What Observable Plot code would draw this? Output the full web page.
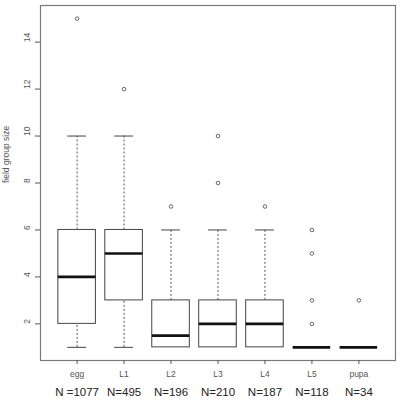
<!DOCTYPE html>
<html>
<head>
<meta charset="utf-8">
<script src="https://cdn.jsdelivr.net/npm/d3@7"></script>
<script src="https://cdn.jsdelivr.net/npm/@observablehq/plot@0.6"></script>
<style>
  body { margin: 0; background: #fff; }
  #chart { width: 400px; height: 400px; }
</style>
</head>
<body>
<div id="chart"></div>
<script>
// values
const stages = ["egg", "L1", "L2", "L3", "L4", "L5", "pupa"]
const nLabels = ["N =1077", "N=495", "N=196", "N=210", "N=187", "N=118", "N=34"]
const lower = [1, 1, 1, 1, 1, 1, 1]
const q1 = [2, 3, 1, 1, 1, 1, 1]
const median = [4, 5, 1.5, 2, 2, 1, 1]
const q3 = [6, 6, 3, 3, 3, 1, 1]
const upper = [10, 10, 6, 6, 6, 1, 1]
const outlierStage = ["egg", "L1", "L2", "L3", "L3", "L4", "L5", "L5", "L5", "L5", "pupa"]
const outlierValue = [15, 12, 7, 8, 10, 7, 2, 3, 5, 6, 3]
const yTicks = [2, 4, 6, 8, 10, 12, 14]

const boxes = stages.map((s, i) => ({
  pos: i + 1, stage: s,
  lower: lower[i], q1: q1[i], median: median[i], q3: q3[i], upper: upper[i]
}))
const outliers = outlierStage.map((s, i) => ({pos: stages.indexOf(s) + 1, value: outlierValue[i]}))

const upWhisk = boxes.filter(d => d.upper > d.q3)
const lowWhisk = boxes.filter(d => d.lower < d.q1)

const chart = Plot.plot({
  width: 400,
  height: 400,
  marginLeft: 40,
  marginRight: 5,
  marginTop: 5,
  marginBottom: 40,
  style: {fontFamily: "Liberation Sans, Arial, sans-serif", background: "#fff"},
  x: {type: "linear", domain: [0.22, 7.78], axis: null},
  y: {domain: [0.44, 15.56], axis: null},
  marks: [
    Plot.frame({stroke: "#7a7a7a", strokeWidth: 1.2}),
    // whiskers
    Plot.ruleX(upWhisk, {x: "pos", y1: "q3", y2: "upper", stroke: "#555", strokeDasharray: "2,2"}),
    Plot.ruleX(lowWhisk, {x: "pos", y1: "lower", y2: "q1", stroke: "#555", strokeDasharray: "2,2"}),
    Plot.ruleY(upWhisk, {y: "upper", x1: d => d.pos - 0.2, x2: d => d.pos + 0.2, stroke: "#444"}),
    Plot.ruleY(lowWhisk, {y: "lower", x1: d => d.pos - 0.2, x2: d => d.pos + 0.2, stroke: "#444"}),
    // boxes
    Plot.rect(boxes, {x1: d => d.pos - 0.4, x2: d => d.pos + 0.4, y1: "q1", y2: "q3", fill: "#fff", stroke: "#444"}),
    Plot.ruleY(boxes, {y: "median", x1: d => d.pos - 0.4, x2: d => d.pos + 0.4, stroke: "#111", strokeWidth: 2.6}),
    // outliers
    Plot.dot(outliers, {x: "pos", y: "value", r: 1.8, stroke: "#666", fill: "#fff", strokeWidth: 1}),
    // y axis
    Plot.axisY({ticks: yTicks, tickSize: 5, tickFormat: () => "", label: null, stroke: "#555"}),
    Plot.text(yTicks, {y: d => d, text: d => d, frameAnchor: "left", dx: -13, rotate: -90, fontSize: 8.5, fill: "#555"}),
    Plot.text(["field group size"], {frameAnchor: "left", dx: -34, rotate: -90, fontSize: 8.5, fill: "#555"}),
    // x axis
    Plot.axisX({ticks: d3.range(1, 8), tickFormat: i => stages[i - 1], tickSize: 4, tickPadding: 6, fontSize: 8.5, color: "#555", label: null}),
    Plot.axisX({ticks: d3.range(1, 8), tickFormat: i => nLabels[i - 1], tickSize: 0, tickPadding: 27, fontSize: 11.5, color: "#222", label: null,
      fontFamily: "Liberation Sans, sans-serif"})
  ]
})

d3.select('#chart').append(() => chart)
</script>
</body>
</html>
